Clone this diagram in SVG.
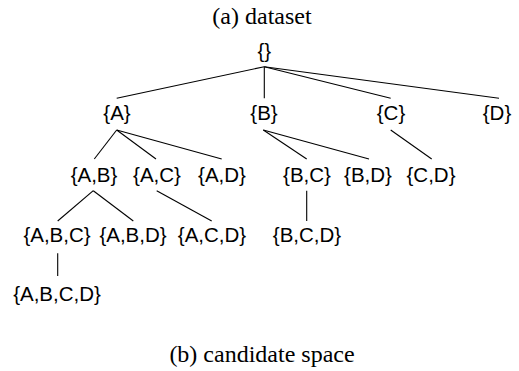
<svg xmlns="http://www.w3.org/2000/svg" width="519" height="371" viewBox="0 0 519 371">
<style>
.cap{font-family:"Liberation Serif","Times New Roman",serif;font-size:24px;fill:#000;text-anchor:middle}
.n text{font-family:"Liberation Sans",Arial,sans-serif;font-size:20.5px;fill:#000;text-anchor:middle}
.e line{stroke:#000;stroke-width:1.1}
</style>
<rect width="519" height="371" fill="#fff"/>
<text class="cap" x="262" y="24">(a) dataset</text>
<g class="e">
<line x1="264.3" y1="66.7" x2="116.7" y2="98.3"/>
<line x1="264.3" y1="66.7" x2="264.3" y2="98.3"/>
<line x1="264.3" y1="66.7" x2="390.7" y2="98.3"/>
<line x1="264.3" y1="66.7" x2="499" y2="98.3"/>
<line x1="116.7" y1="130" x2="94.3" y2="159"/>
<line x1="116.7" y1="130" x2="156" y2="159"/>
<line x1="116.7" y1="130" x2="221.7" y2="159"/>
<line x1="263.3" y1="130" x2="306.7" y2="159"/>
<line x1="263.3" y1="130" x2="369" y2="159"/>
<line x1="390.7" y1="130" x2="431.7" y2="159"/>
<line x1="93.3" y1="190.7" x2="57.7" y2="221"/>
<line x1="93.3" y1="190.7" x2="133.3" y2="221"/>
<line x1="156.7" y1="190.7" x2="211.7" y2="221"/>
<line x1="306.7" y1="190.7" x2="306.7" y2="221"/>
<line x1="57.7" y1="253.3" x2="57.7" y2="276"/>
</g>
<g class="n" id="n_root"><text x="264.3" y="58">{}</text></g>
<g class="n" id="n_A"><text x="117" y="120">{A}</text></g>
<g class="n" id="n_B"><text x="264" y="120">{B}</text></g>
<g class="n" id="n_C"><text x="391" y="120">{C}</text></g>
<g class="n" id="n_D"><text x="497" y="120">{D}</text></g>
<g class="n" id="n_AB"><text x="94" y="182">{A,B}</text></g>
<g class="n" id="n_AC"><text x="157" y="182">{A,C}</text></g>
<g class="n" id="n_AD"><text x="222" y="182">{A,D}</text></g>
<g class="n" id="n_BC"><text x="307" y="182">{B,C}</text></g>
<g class="n" id="n_BD"><text x="368" y="182">{B,D}</text></g>
<g class="n" id="n_CD"><text x="431" y="182">{C,D}</text></g>
<g class="n" id="n_ABC"><text x="57" y="242">{A,B,C}</text></g>
<g class="n" id="n_ABD"><text x="133" y="242">{A,B,D}</text></g>
<g class="n" id="n_ACD"><text x="212" y="242">{A,C,D}</text></g>
<g class="n" id="n_BCD"><text x="307" y="242">{B,C,D}</text></g>
<g class="n" id="n_ABCD"><text x="57" y="301">{A,B,C,D}</text></g>
<text class="cap" x="262" y="362">(b) candidate space</text>
</svg>
